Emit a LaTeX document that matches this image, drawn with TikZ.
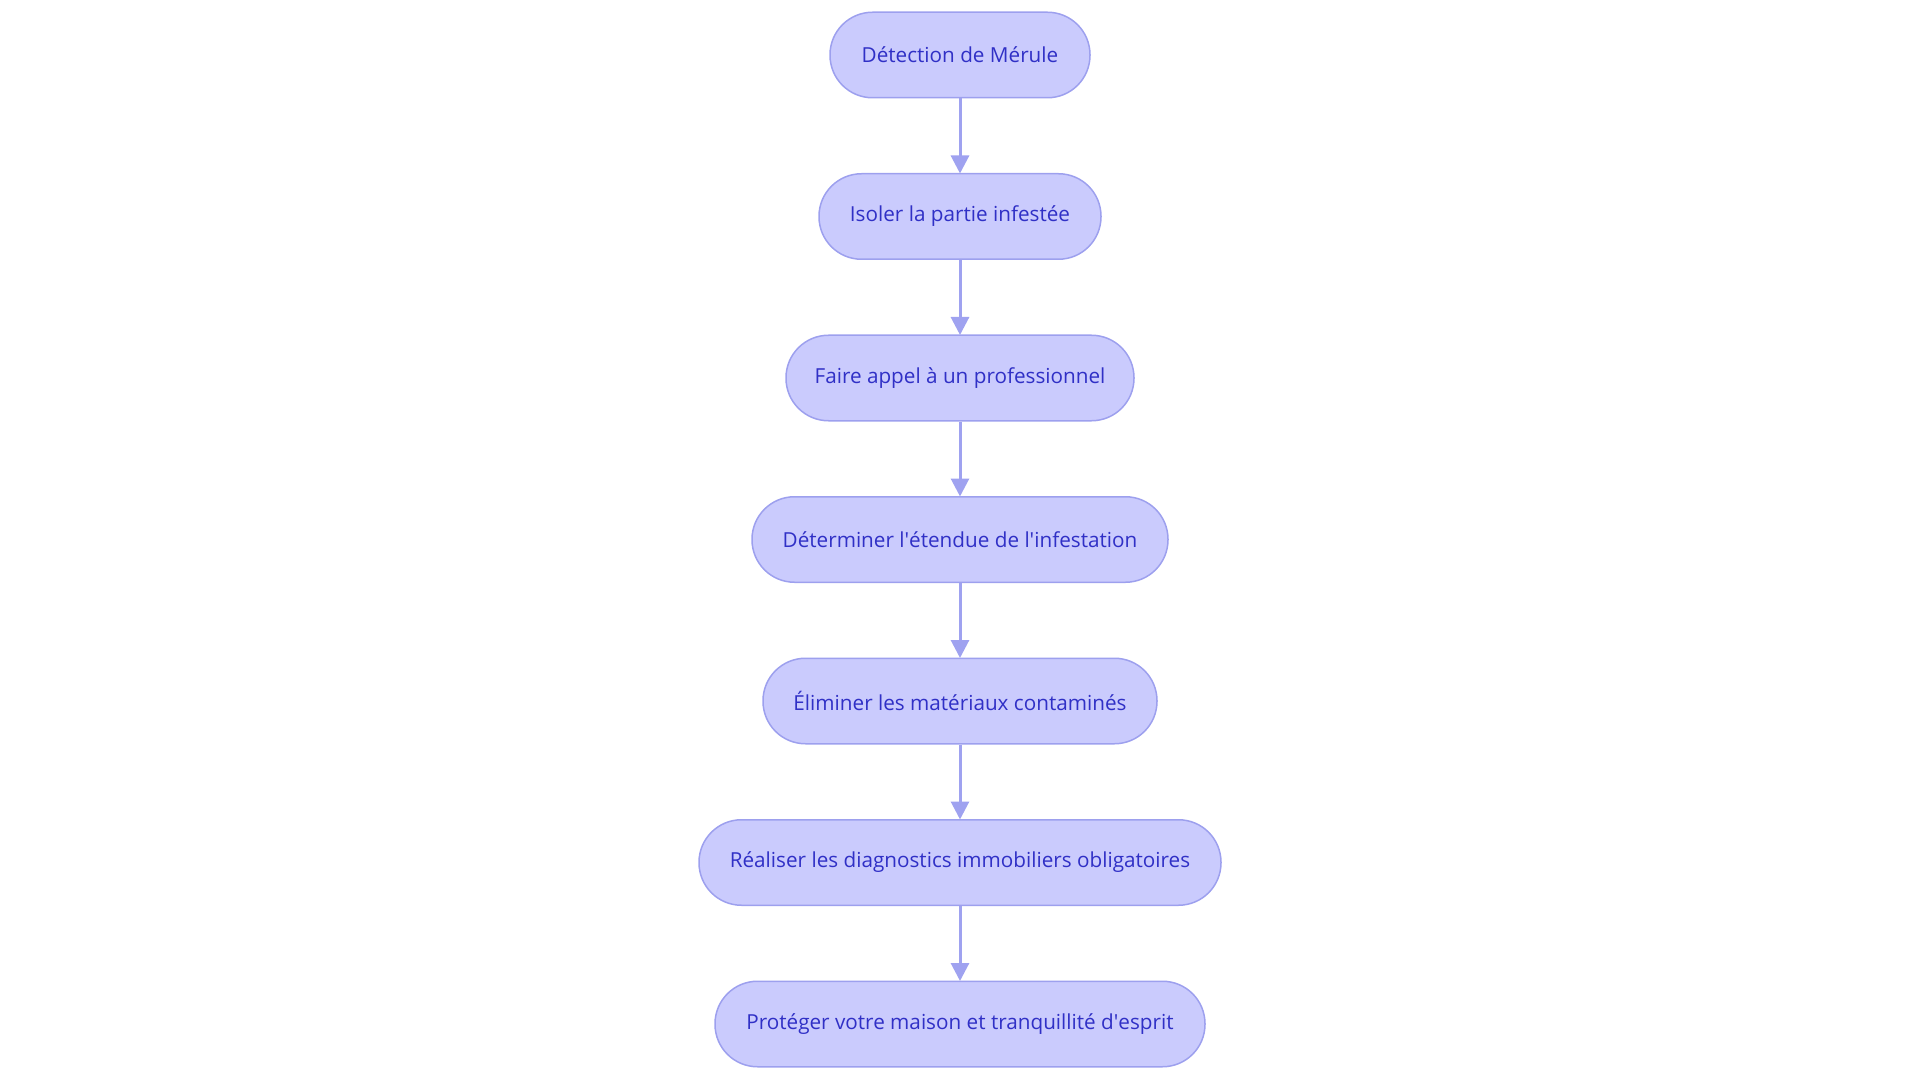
\documentclass[tikz,border=0pt]{standalone}
\usepackage{fontspec}
\setmainfont{Open Sans}
\usetikzlibrary{arrows.meta}
\definecolor{nodefill}{HTML}{CACBFD}
\definecolor{nodeline}{HTML}{9DA0EE}
\definecolor{nodetext}{HTML}{3030C6}
\definecolor{arrowcol}{HTML}{9FA2F0}
\newcommand{\sq}{\textquotesingle}
\tikzset{
  stepbox/.style={draw=nodeline, fill=nodefill, line width=1.5pt, rounded corners=42.5pt,
    minimum height=85.5pt, inner sep=0pt, text=nodetext,
    font=\fontsize{20.7}{24}\selectfont},
  flowarrow/.style={draw=arrowcol, line width=3pt, -{Triangle[length=18pt,width=18pt]}, shorten >=-0.5pt}
}
\begin{document}
\begin{tikzpicture}[x=1pt,y=-1pt]
\useasboundingbox (0,0) rectangle (1920,1083);
\node[stepbox, minimum width=260pt] (n1) at (960,55) {Détection de Mérule};
\node[stepbox, minimum width=282pt] (n2) at (960,216.5) {Isoler la partie infestée};
\node[stepbox, minimum width=348pt] (n3) at (960,378) {Faire appel à un professionnel};
\node[stepbox, minimum width=416pt] (n4) at (960,539.5) {Déterminer l\sq étendue de l\sq infestation};
\node[stepbox, minimum width=394pt] (n5) at (960,701) {Éliminer les matériaux contaminés};
\node[stepbox, minimum width=522pt] (n6) at (960,862.5) {Réaliser les diagnostics immobiliers obligatoires};
\node[stepbox, minimum width=490pt] (n7) at (960,1024) {Protéger votre maison et tranquillité d\sq esprit};
\foreach \a/\b in {n1/n2,n2/n3,n3/n4,n4/n5,n5/n6,n6/n7}
  \draw[flowarrow] (\a.south) -- (\b.north);
\end{tikzpicture}
\end{document}
